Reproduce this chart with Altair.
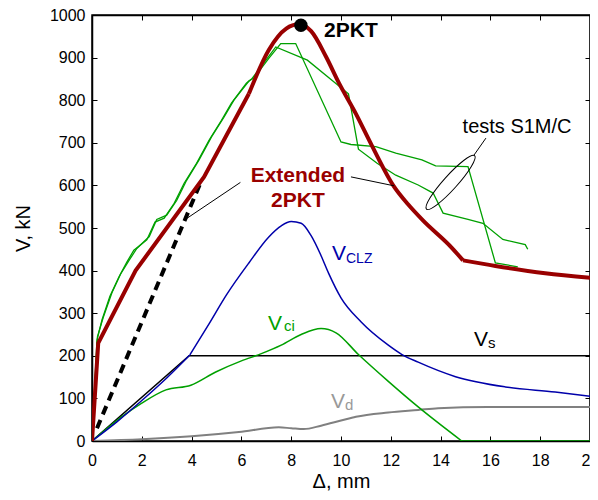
import altair as alt
import pandas as pd

FONT = "Liberation Sans"

# ---- data ----
# Extended 2PKT (dark red), split where the curve has corners
ext_lin_x = [0, 0.25, 1.75, 4.5, 6.3]
ext_lin_y = [0, 230, 400, 620, 815]
ext_peak_x = [6.3, 7.1, 7.8, 8.3, 8.8, 9.4, 9.92, 10.59, 11.26, 12.13, 12.7, 13.27, 14.46, 14.9]
ext_peak_y = [815, 918, 968, 978, 962, 902, 840, 769, 691, 597, 555, 519, 453, 424]
ext_tail_x = [14.9, 16.2, 18.2, 20]
ext_tail_y = [424, 411, 394, 383]

# dashed line (initial stiffness)
dash_x = [0.2, 4.35]
dash_y = [30, 605]

# tests S1M/C
testA_x = [0, 0.2, 0.4, 0.72, 1.08, 1.4, 1.68, 2.2, 2.53, 2.9, 3.3, 3.7, 4.2, 4.7, 5.2, 5.6, 6.2, 6.43, 7.0, 7.38,
           8.65, 10.3, 10.7, 11.45, 12.2, 13.1, 13.7, 14.1, 15.1, 15.7, 16.5, 17.4, 17.5]
testA_y = [0, 237, 284, 340, 385, 420, 448, 472, 514, 523, 558, 605, 652, 706, 753, 793, 840, 851, 895, 925,
           894, 815, 685, 652, 624, 601, 582, 535, 520, 511, 473, 461, 450]
testB_x = [0, 0.22, 0.45, 0.8, 1.15, 1.5, 1.8, 2.3, 2.6, 3.0, 3.4, 3.8, 4.3, 4.8, 5.3, 5.7, 6.3, 6.5, 7.1, 7.58,
           8.18, 10.0, 10.4, 11.4, 12.2, 13.25, 13.8, 15.1, 16.2, 17.1]
testB_y = [0, 245, 290, 348, 392, 425, 452, 480, 520, 530, 565, 612, 660, 714, 760, 800, 845, 852, 898, 933,
           933, 702, 696, 691, 676, 660, 646, 644, 418, 409]

# V_CLZ (blue)
clz1_x = [0, 1.0, 2.0, 3.0, 3.93]
clz1_y = [0, 45, 95, 148, 202]
clz2_x = [3.93, 4.7, 5.4, 6.3, 7.1, 7.6, 8.0, 8.4, 8.8, 9.2, 9.5, 10.0, 10.8, 11.9, 12.45, 13.1, 14.6, 16.6, 18.6, 20]
clz2_y = [202, 275, 343, 418, 479, 505, 515, 511, 482, 435, 394, 336, 280, 225, 203, 185, 151, 127, 115, 105]

# V_s (black)
vs_x = [0, 3.9, 20]
vs_y = [0, 200, 200]

# V_ci (green)
vci_x = [0, 0.28, 0.68, 1.2, 2.0, 2.97, 3.97, 4.97, 6.0, 6.8, 7.6, 8.4, 9.2, 9.8, 10.7, 11.9, 13.1, 14.85]
vci_y = [0, 14, 33, 57, 89, 120, 131, 162, 188, 205, 225, 250, 264, 254, 203, 140, 80, 0]
vci_tail_x = [14.85, 20]
vci_tail_y = [0, 0]

# V_d (grey)
vd_x = [0, 2, 4, 5.9, 7.5, 8.0, 8.5, 9.2, 10.0, 10.6, 11.9, 13.1, 13.9, 15.9, 18, 20]
vd_y = [0, 4, 11, 21, 32, 30, 28, 36, 48, 57, 67, 73, 77, 80, 80, 80]

x_ticks = list(range(0, 21, 2))
y_ticks = list(range(0, 1001, 100))

# ---- scales / axes ----
xs = alt.Scale(domain=[0, 20], nice=False, zero=False)
ys = alt.Scale(domain=[0, 1000], nice=False, zero=False)
inward = alt.ExprRef(expr="-5")
xaxis = alt.Axis(values=x_ticks, title="Δ, mm", tickSize=inward, labelPadding=16, format="d",
                 titleY=46, titleBaseline="alphabetic", labelFlush=False)
yaxis = alt.Axis(values=y_ticks, title="V, kN", tickSize=inward, labelPadding=12, format="d",
                 titleX=-63, titleBaseline="alphabetic", labelFlush=False)
X = alt.X("x:Q", scale=xs, axis=xaxis)
Y = alt.Y("y:Q", scale=ys, axis=yaxis)


def line(xv, yv, color, width, interp="linear", dash=None):
    df = pd.DataFrame({"x": xv, "y": yv})
    kw = dict(color=color, strokeWidth=width, interpolate=interp, clip=True)
    if dash:
        kw["strokeDash"] = dash
    return alt.Chart(df).mark_line(**kw).encode(x=X, y=Y)


def label(x, y, t, color, size, weight="normal", align="left"):
    df = pd.DataFrame({"x": [x], "y": [y], "t": [t]})
    return alt.Chart(df).mark_text(color=color, fontSize=size, fontWeight=weight, font=FONT,
                                   align=align, baseline="alphabetic").encode(x=X, y=Y, text="t:N")


def seg(x1, y1, x2, y2):
    df = pd.DataFrame({"x": [x1], "y": [y1], "x2": [x2], "y2": [y2]})
    return alt.Chart(df).mark_rule(color="black", strokeWidth=1).encode(x=X, y=Y, x2="x2", y2="y2")


RED = "#990000"
GREEN = "#00a000"
BLUE = "#0000aa"
GREY = "#808080"

layers = [
    line(vd_x, vd_y, GREY, 2, "monotone"),
    line(vs_x, vs_y, "black", 1.5),
    line(vci_x, vci_y, GREEN, 1.5, "monotone"),
    line(vci_tail_x, vci_tail_y, GREEN, 1.5),
    line(clz1_x, clz1_y, BLUE, 1.5, "monotone"),
    line(clz2_x, clz2_y, BLUE, 1.5, "monotone"),
    line(testA_x, testA_y, GREEN, 1.3),
    line(testB_x, testB_y, GREEN, 1.3),
    line(dash_x, dash_y, "black", 4, dash=[9, 6]),
    line(ext_lin_x, ext_lin_y, RED, 4),
    line(ext_peak_x, ext_peak_y, RED, 4, "monotone"),
    line(ext_tail_x, ext_tail_y, RED, 4, "monotone"),
    alt.Chart(pd.DataFrame({"x": [8.39], "y": [976]})).mark_circle(size=180, color="black", opacity=1).encode(x=X, y=Y),
    label(9.32, 949, "2PKT", "black", 21, "bold"),
    label(8.27, 608, "Extended", RED, 21, "bold", "center"),
    label(8.27, 549, "2PKT", RED, 21, "bold", "center"),
    seg(3.82, 523, 5.96, 607),
    seg(10.4, 620, 12.13, 599),
    label(17.07, 723, "tests S1M/C", "black", 20, "normal", "center"),
    seg(15.34, 671, 15.82, 711),
    alt.Chart(pd.DataFrame({"x": [14.4], "y": [607]})).mark_point(
        shape="M-1,0A1,0.19,0,1,1,1,0A1,0.19,0,1,1,-1,0Z", size=5184, angle=312,
        filled=False, stroke="black", strokeWidth=1, opacity=1).encode(x=X, y=Y),
    label(9.64, 425, "V", BLUE, 21),
    label(10.2, 418, "CLZ", BLUE, 14),
    label(7.07, 261, "V", GREEN, 21),
    label(7.71, 258, "ci", GREEN, 15),
    label(15.34, 224, "V", "black", 21),
    label(15.9, 219, "s", "black", 15),
    label(9.6, 77, "V", "#999999", 21),
    label(10.16, 73, "d", "#999999", 15),
]

main = alt.layer(*layers)

frame_df = pd.DataFrame({"x": [0], "y": [0]})
frame = alt.Chart(frame_df).mark_point(opacity=0).encode(
    x=alt.X("x:Q", scale=xs, axis=alt.Axis(orient="top", values=x_ticks, labels=False, title=None,
                                           tickSize=inward)),
    y=alt.Y("y:Q", scale=ys, axis=alt.Axis(orient="right", values=y_ticks, labels=False, title=None,
                                           tickSize=inward)),
)

chart = alt.layer(main, frame).resolve_scale(x="independent", y="independent").properties(
    width=498, height=426,
    autosize=alt.AutoSizeParams(type="none"),
    padding={"left": 84, "top": 7, "right": 0, "bottom": 51},
).configure_axis(
    labelFont=FONT, titleFont=FONT, labelFontSize=16, titleFontSize=20,
    labelColor="black", titleColor="black", domainColor="black", tickColor="black",
    grid=False, titleFontWeight="normal", domainWidth=1.5, tickWidth=1,
).configure_view(stroke="black", strokeWidth=1.5)

chart.save("out.html", embed_options={"renderer": "svg", "actions": False})
